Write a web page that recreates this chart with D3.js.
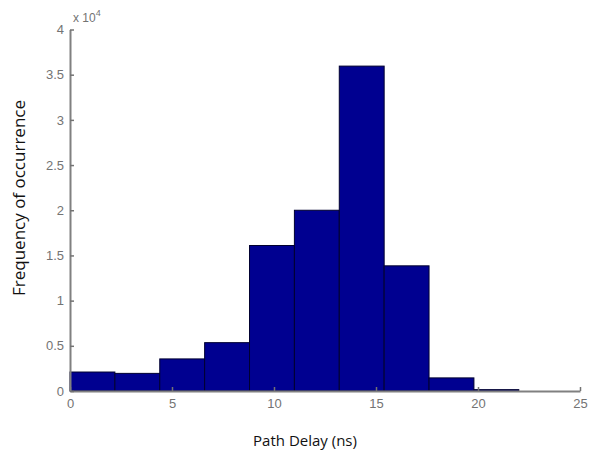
<!DOCTYPE html>
<meta charset="utf-8">
<style>
body { margin: 0; background: #fff; }
.tick text { font-family: "Liberation Sans", Arial, sans-serif; font-size: 13px; fill: #737373; }
.tick line { stroke: #737373; stroke-width: 1.5px; }
.domain { stroke: #808080; stroke-width: 2px; }
.label { font-family: "Open Sans", sans-serif; fill: #111; }
</style>
<body>
<script src="https://cdn.jsdelivr.net/npm/d3@7"></script>
<script>

// histogram bins (ns) and counts
var binStarts = [0, 2.2, 4.4, 6.6, 8.8, 11.0, 13.2, 15.4, 17.6, 19.8];
var binWidth = 2.2;
var counts = [2100, 1950, 3550, 5350, 16100, 20000, 35950, 13850, 1450, 150];
var xTicks = [0, 5, 10, 15, 20, 25];
var yTicks = [0, 0.5, 1, 1.5, 2, 2.5, 3, 3.5, 4];

var width = 597, height = 454;

var x = d3.scaleLinear().domain([0, 25]).range([70, 580]);
var y = d3.scaleLinear().domain([0, 40000]).range([391, 29.5]);

var svg = d3.select("body").append("svg")
    .attr("width", width)
    .attr("height", height);

// bars
svg.selectAll("rect.bar")
    .data(counts)
  .enter().append("rect")
    .attr("class", "bar")
    .attr("x", function(d, i) { return x(binStarts[i]); })
    .attr("width", function(d, i) { return x(binStarts[i] + binWidth) - x(binStarts[i]); })
    .attr("y", function(d) { return y(d); })
    .attr("height", function(d) { return y(0) - y(d); })
    .attr("fill", "#000090")
    .attr("stroke", "#000030")
    .attr("stroke-width", 1);

// x axis
svg.append("g")
    .attr("transform", "translate(0," + y(0) + ")")
    .call(d3.axisBottom(x).tickValues(xTicks).tickSizeInner(-4).tickSizeOuter(0).tickPadding(8));

// y axis (values in units of 10^4)
var yScaled = d3.scaleLinear().domain([0, 4]).range(y.range());
svg.append("g")
    .attr("transform", "translate(" + x(0) + ",0)")
    .call(d3.axisLeft(yScaled).tickValues(yTicks).tickFormat(d3.format("~g")).tickSizeInner(-4).tickSizeOuter(0).tickPadding(6));

// exponent note
var expo = svg.append("text")
    .attr("x", 73)
    .attr("y", 22)
    .style("font-family", "Liberation Sans, Arial, sans-serif")
    .style("font-size", "12px")
    .style("fill", "#737373");
expo.append("tspan").text("x 10");
expo.append("tspan").attr("dy", -6).style("font-size", "9px").text("4");

// axis labels
svg.append("text")
    .attr("class", "label")
    .attr("text-anchor", "middle")
    .attr("x", 305)
    .attr("y", 446)
    .style("font-size", "15px")
    .text("Path Delay (ns)");

svg.append("text")
    .attr("class", "label")
    .attr("text-anchor", "middle")
    .attr("transform", "translate(25,198) rotate(-90)")
    .style("font-size", "17px")
    .text("Frequency of occurrence");

</script>
</body>
